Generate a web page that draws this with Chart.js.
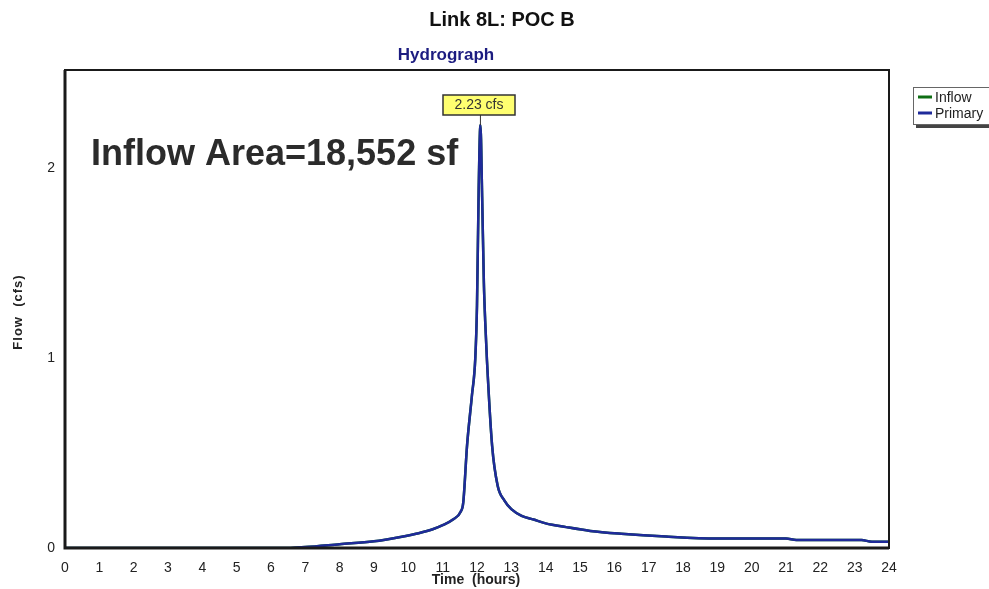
<!DOCTYPE html>
<html>
<head>
<meta charset="utf-8">
<script src="https://cdn.jsdelivr.net/npm/chart.js@4.4.0/dist/chart.umd.min.js"></script>
<style>
  html, body { margin: 0; padding: 0; background: #fff; }
</style>
</head>
<body>
<canvas id="myChart" width="989" height="589"></canvas>
<script>
const horas = [0, 6.5, 7, 8, 9, 9.77, 10.3, 10.73, 11.0, 11.3, 11.52, 11.6, 11.71, 11.85, 11.95, 12.0, 12.05, 12.1, 12.15, 12.2, 12.24, 12.29, 12.44, 12.6, 12.8, 13.0, 13.3, 13.65, 14.0, 14.6, 15.3, 16.2, 17.5, 19.0, 21.0, 21.3, 23.2, 23.5, 24];
const inflow = [0, 0, 0.005, 0.02, 0.035, 0.058, 0.078, 0.1, 0.12, 0.15, 0.19, 0.24, 0.54, 0.8, 1.0, 1.28, 1.9, 2.23, 1.85, 1.4, 1.19, 0.99, 0.54, 0.33, 0.25, 0.205, 0.17, 0.15, 0.13, 0.11, 0.09, 0.075, 0.06, 0.05, 0.05, 0.042, 0.042, 0.033, 0.033];
const primary = inflow.slice();
const xTicks = [0, 1, 2, 3, 4, 5, 6, 7, 8, 9, 10, 11, 12, 13, 14, 15, 16, 17, 18, 19, 20, 21, 22, 23, 24];
const yTicks = [0, 1, 2];

const fonte = '"Liberation Sans", Arial, sans-serif';

function pontos(ys) {
  return horas.map((h, i) => ({ x: h, y: ys[i] }));
}

const extras = {
  id: 'extras',
  afterDatasetsDraw(chart) {
    const { ctx, chartArea: a, scales: { x, y } } = chart;
    ctx.save();

    // moldura
    ctx.strokeStyle = '#1a1a1a';
    ctx.lineWidth = 2;
    ctx.strokeRect(a.left, a.top, a.right - a.left, a.bottom - a.top);
    ctx.lineWidth = 3;
    ctx.beginPath();
    ctx.moveTo(a.left, a.top);
    ctx.lineTo(a.left, a.bottom);
    ctx.lineTo(a.right, a.bottom);
    ctx.stroke();

    // titulos
    ctx.fillStyle = '#111';
    ctx.textAlign = 'center';
    ctx.textBaseline = 'middle';
    ctx.font = 'bold 20px ' + fonte;
    ctx.fillText('Link 8L: POC B', 502, 20);
    ctx.fillStyle = '#1c1c80';
    ctx.font = 'bold 17px ' + fonte;
    ctx.fillText('Hydrograph', 446, 55);

    // titulos dos eixos
    ctx.fillStyle = '#222';
    ctx.font = 'bold 14px ' + fonte;
    ctx.fillText('Time  (hours)', 476, 580);
    ctx.save();
    ctx.translate(18, 312);
    ctx.rotate(-Math.PI / 2);
    ctx.font = 'bold 13px ' + fonte;
    ctx.letterSpacing = '1px';
    ctx.fillText('Flow  (cfs)', 0, 0);
    ctx.restore();

    // area
    ctx.fillStyle = '#2b2b2b';
    ctx.textAlign = 'left';
    ctx.textBaseline = 'alphabetic';
    ctx.font = 'bold 36px ' + fonte;
    ctx.fillText('Inflow Area=18,552 sf', 91, 165);

    // rotulo do pico
    let iMax = 0;
    primary.forEach((v, i) => { if (v > primary[iMax]) iMax = i; });
    const px = x.getPixelForValue(horas[iMax]);
    const py = y.getPixelForValue(primary[iMax]);
    ctx.strokeStyle = '#333';
    ctx.lineWidth = 1;
    ctx.beginPath();
    ctx.moveTo(px, 115);
    ctx.lineTo(px, py);
    ctx.stroke();
    ctx.fillStyle = '#ffff70';
    ctx.fillRect(443, 95, 72, 20);
    ctx.strokeStyle = '#333';
    ctx.lineWidth = 1.5;
    ctx.strokeRect(443, 95, 72, 20);
    ctx.fillStyle = '#333';
    ctx.textAlign = 'center';
    ctx.textBaseline = 'middle';
    ctx.font = '14px ' + fonte;
    ctx.fillText(primary[iMax].toFixed(2) + ' cfs', 479, 105.5);

    // legenda
    ctx.fillStyle = '#444';
    ctx.fillRect(916, 91, 80, 37);
    ctx.fillStyle = '#fff';
    ctx.fillRect(913, 87, 80, 37);
    ctx.strokeStyle = '#666';
    ctx.lineWidth = 1;
    ctx.strokeRect(913.5, 87.5, 80, 37);
    const itens = [['Inflow', '#0f6e14', 97], ['Primary', '#1f2a9a', 113]];
    ctx.textAlign = 'left';
    ctx.font = '14px ' + fonte;
    itens.forEach(([nome, cor, yy]) => {
      ctx.strokeStyle = cor;
      ctx.lineWidth = 3;
      ctx.beginPath();
      ctx.moveTo(918, yy);
      ctx.lineTo(932, yy);
      ctx.stroke();
      ctx.fillStyle = '#222';
      ctx.fillText(nome, 935, yy + 1);
    });

    ctx.restore();
  }
};

new Chart(document.getElementById('myChart'), {
  type: 'line',
  data: {
    datasets: [
      {
        label: 'Primary',
        data: pontos(primary),
        borderColor: '#1f2a9a',
        borderWidth: 2.5,
        pointRadius: 0,
        fill: false,
        order: 0,
        cubicInterpolationMode: 'monotone'
      },
      {
        label: 'Inflow',
        data: pontos(inflow),
        borderColor: '#0f6e14',
        borderWidth: 2.5,
        pointRadius: 0,
        fill: false,
        order: 1,
        cubicInterpolationMode: 'monotone'
      }
    ]
  },
  options: {
    responsive: false,
    animation: false,
    layout: { padding: { left: 0, right: 100, top: 70, bottom: 0 } },
    plugins: {
      legend: { display: false },
      title: { display: false },
      tooltip: { enabled: false }
    },
    scales: {
      x: {
        type: 'linear',
        min: 0,
        max: 24,
        afterFit: s => { s.height = 41; },
        afterBuildTicks: s => { s.ticks = xTicks.map(v => ({ value: v })); },
        grid: { display: false, drawTicks: false },
        border: { display: false },
        ticks: {
          padding: 12,
          autoSkip: false,
          maxRotation: 0,
          color: '#222',
          font: { family: fonte, size: 14 }
        }
      },
      y: {
        type: 'linear',
        min: 0,
        max: 2.52,
        afterFit: s => { s.width = 65; },
        afterBuildTicks: s => { s.ticks = yTicks.map(v => ({ value: v })); },
        grid: { display: false, drawTicks: false },
        border: { display: false },
        ticks: {
          padding: 10,
          color: '#222',
          font: { family: fonte, size: 14 }
        }
      }
    }
  },
  plugins: [extras]
});
</script>
</body>
</html>
